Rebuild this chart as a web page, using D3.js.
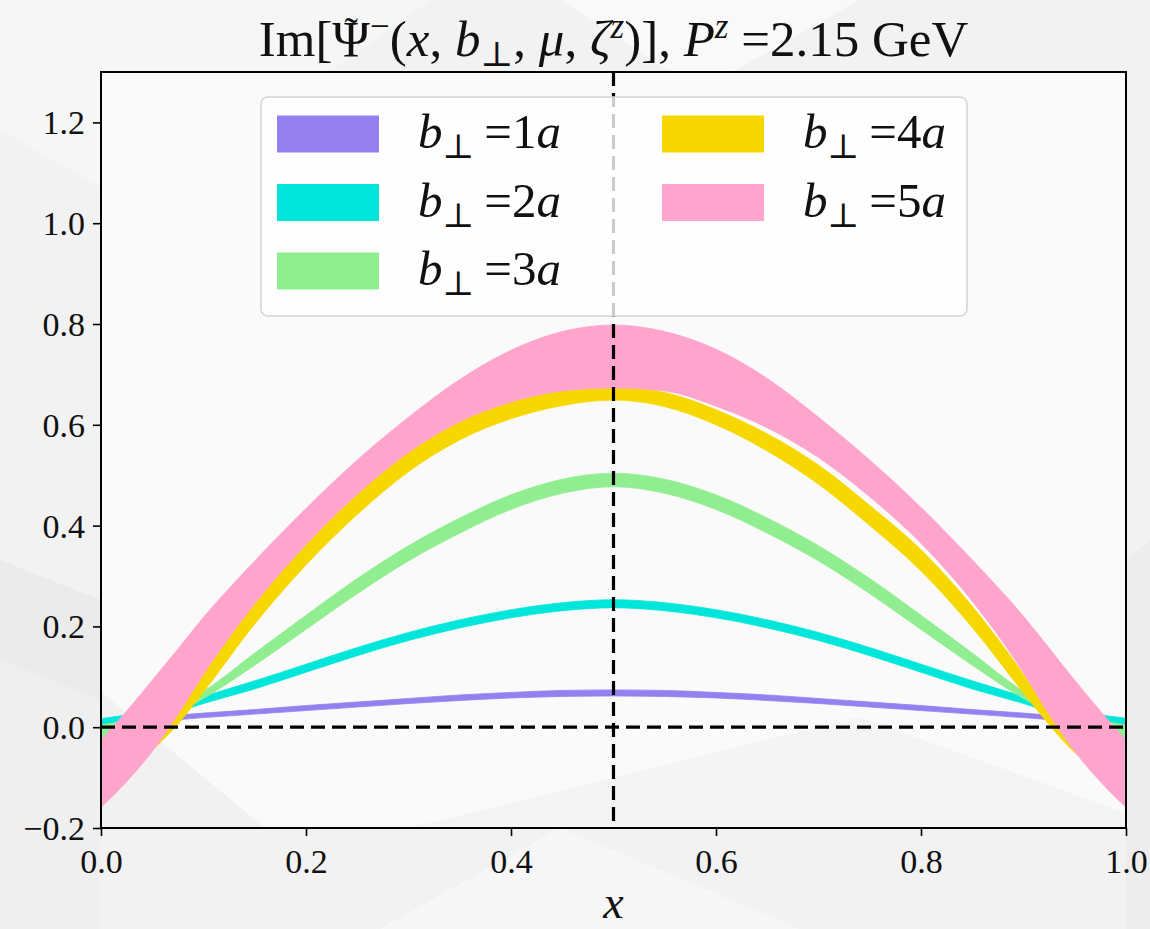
<!DOCTYPE html>
<html>
<head>
<meta charset="utf-8">
<script src="https://cdn.jsdelivr.net/npm/d3@7"></script>
<style>
  body { margin: 0; background: #f2f2f2; }
  svg { display: block; }
  text { font-family: "Liberation Serif", "DejaVu Serif", serif; fill: #111; }
</style>
</head>
<body>
<svg id="chart" width="1150" height="929"></svg>
<script>
// x grid of the bands
const xs = [0, 0.025, 0.05, 0.075, 0.1, 0.15, 0.2, 0.25, 0.3, 0.35, 0.4, 0.45, 0.5,
            0.55, 0.6, 0.65, 0.7, 0.75, 0.8, 0.85, 0.9, 0.925, 0.95, 0.975, 1];

// b_perp = 1a
const b1Lower = [0.005, 0.008, 0.012, 0.015, 0.019, 0.026, 0.033, 0.040, 0.047, 0.053, 0.058, 0.061, 0.062,
                 0.061, 0.058, 0.053, 0.047, 0.040, 0.033, 0.026, 0.019, 0.015, 0.012, 0.008, 0.005];
const b1Upper = [0.013, 0.016, 0.020, 0.024, 0.028, 0.035, 0.043, 0.050, 0.057, 0.064, 0.069, 0.073, 0.074,
                 0.073, 0.069, 0.064, 0.057, 0.050, 0.043, 0.035, 0.028, 0.024, 0.020, 0.016, 0.013];
// b_perp = 2a
const b2Lower = [0.005, 0.012, 0.020, 0.031, 0.047, 0.076, 0.109, 0.142, 0.172, 0.197, 0.217, 0.231, 0.237,
                 0.231, 0.217, 0.197, 0.172, 0.142, 0.109, 0.076, 0.047, 0.031, 0.020, 0.012, 0.007];
const b2Upper = [0.017, 0.024, 0.032, 0.045, 0.061, 0.092, 0.125, 0.158, 0.188, 0.213, 0.233, 0.247, 0.253,
                 0.247, 0.233, 0.213, 0.188, 0.158, 0.125, 0.092, 0.061, 0.045, 0.032, 0.024, 0.018];
// b_perp = 3a
const b3Lower = [-0.025, -0.008, 0.010, 0.030, 0.057, 0.123, 0.194, 0.265, 0.330, 0.385, 0.432, 0.464, 0.477,
                 0.464, 0.432, 0.385, 0.330, 0.265, 0.194, 0.123, 0.057, 0.030, 0.010, -0.008, -0.026];
const b3Upper = [0.004, 0.014, 0.026, 0.042, 0.071, 0.147, 0.222, 0.295, 0.360, 0.415, 0.461, 0.492, 0.504,
                 0.492, 0.461, 0.415, 0.360, 0.295, 0.222, 0.147, 0.071, 0.042, 0.026, 0.014, 0.004];
// b_perp = 4a
const b4Lower = [-0.110, -0.085, -0.045, 0.006, 0.070, 0.205, 0.322, 0.422, 0.507, 0.570, 0.612, 0.638, 0.649,
                 0.636, 0.600, 0.548, 0.482, 0.400, 0.310, 0.198, 0.068, 0.005, -0.050, -0.085, -0.110];
const b4Upper = [-0.085, -0.060, -0.025, 0.030, 0.107, 0.247, 0.363, 0.463, 0.546, 0.607, 0.646, 0.668, 0.675,
                 0.664, 0.630, 0.582, 0.520, 0.440, 0.352, 0.240, 0.105, 0.030, -0.025, -0.060, -0.085];
// b_perp = 5a
const b5Lower = [-0.159, -0.108, -0.048, 0.025, 0.105, 0.245, 0.362, 0.462, 0.545, 0.606, 0.645, 0.667, 0.673,
                 0.667, 0.637, 0.594, 0.535, 0.457, 0.365, 0.250, 0.108, 0.025, -0.048, -0.108, -0.159];
const b5Upper = [-0.026, 0.032, 0.093, 0.155, 0.218, 0.330, 0.434, 0.530, 0.615, 0.690, 0.748, 0.785, 0.798,
                 0.785, 0.750, 0.692, 0.615, 0.530, 0.436, 0.332, 0.220, 0.157, 0.093, 0.032, -0.026];

const bLabels = ["1", "2", "3", "4", "5"];
const bColors = ["#9580f0", "#00e6da", "#90ee90", "#f6d800", "#ffa4cc"];

const xTicks = [0.0, 0.2, 0.4, 0.6, 0.8, 1.0];
const yTicks = [-0.2, 0.0, 0.2, 0.4, 0.6, 0.8, 1.0, 1.2];

const bands = [
  { label: bLabels[0], color: bColors[0], lo: b1Lower, hi: b1Upper },
  { label: bLabels[1], color: bColors[1], lo: b2Lower, hi: b2Upper },
  { label: bLabels[2], color: bColors[2], lo: b3Lower, hi: b3Upper },
  { label: bLabels[3], color: bColors[3], lo: b4Lower, hi: b4Upper },
  { label: bLabels[4], color: bColors[4], lo: b5Lower, hi: b5Upper },
];

const margin = { top: 72, right: 24, bottom: 101, left: 101 };
const W = 1150, H = 929;
const width = W - margin.left - margin.right;
const height = H - margin.top - margin.bottom;

const svg = d3.select("#chart");

// faint faceted background
const bg = svg.append("g");
bg.append("rect").attr("width", W).attr("height", H).attr("fill", "#f2f2f2");
const facets = [
  { pts: [[0,0],[430,0],[140,210],[0,130]], c: "#f6f6f6" },
  { pts: [[560,0],[860,0],[700,90]], c: "#f9f9f9" },
  { pts: [[0,560],[101,600],[101,700],[0,660]], c: "#ebebeb" },
  { pts: [[0,660],[101,700],[101,929],[0,929]], c: "#efefef" },
  { pts: [[380,929],[560,828],[800,929]], c: "#f7f7f7" },
  { pts: [[1126,560],[1150,540],[1150,929],[1126,929]], c: "#ededed" },
];
facets.forEach(f => bg.append("polygon").attr("points", f.pts.map(p => p.join(",")).join(" ")).attr("fill", f.c));

const g = svg.append("g").attr("transform", `translate(${margin.left},${margin.top})`);

const x = d3.scaleLinear().domain([0, 1]).range([0, width]);
const y = d3.scaleLinear().domain([-0.2, 1.3]).range([height, 0]);

g.append("rect").attr("width", width).attr("height", height).attr("fill", "#fafafa");
g.append("polygon")
  .attr("points", [[0, y(0.07)], [x(0.16), height], [0, height]].map(p => p.join(",")).join(" "))
  .attr("fill", "#f1f1f1");
g.append("polygon")
  .attr("points", [[x(0.74), y(0.02)], [width, y(-0.17)], [width, height], [x(0.3), height]].map(p => p.join(",")).join(" "))
  .attr("fill", "#f4f4f4");

g.append("clipPath").attr("id", "clip")
  .append("rect").attr("width", width).attr("height", height);

const plot = g.append("g").attr("clip-path", "url(#clip)");

const area = (b) => d3.area()
  .x((d, i) => x(xs[i]))
  .y0((d, i) => y(b.lo[i]))
  .y1((d, i) => y(b.hi[i]))
  .curve(d3.curveMonotoneX)(xs);

plot.selectAll(".band")
  .data(bands)
  .enter()
  .append("path")
  .attr("class", "band")
  .attr("d", d => area(d))
  .attr("fill", d => d.color)
  .attr("stroke", d => d.color)
  .attr("stroke-width", 0.8);

// reference lines
plot.append("line")
  .attr("x1", 0).attr("x2", width)
  .attr("y1", y(0)).attr("y2", y(0))
  .attr("stroke", "#000").attr("stroke-width", 3.2)
  .attr("stroke-dasharray", "14,7");
plot.append("line")
  .attr("x1", x(0.5)).attr("x2", x(0.5))
  .attr("y1", 0).attr("y2", height)
  .attr("stroke", "#000").attr("stroke-width", 3.2)
  .attr("stroke-dasharray", "14,7");

// axes
const fmt = d3.format(".1f");
const xAxis = g.append("g")
  .attr("transform", `translate(0,${height})`)
  .call(d3.axisBottom(x).tickValues(xTicks).tickFormat(fmt).tickSize(8).tickPadding(8));
const yAxis = g.append("g")
  .call(d3.axisLeft(y).tickValues(yTicks).tickFormat(fmt).tickSize(8).tickPadding(8));

[xAxis, yAxis].forEach(a => {
  a.select(".domain").remove();
  a.selectAll(".tick line").attr("stroke", "#000").attr("stroke-width", 1.6);
  a.selectAll(".tick text")
    .attr("fill", "#111")
    .style("font-family", '"Liberation Serif", serif')
    .style("font-size", "34px");
});
xAxis.selectAll(".tick text").attr("dy", "0.85em");
yAxis.selectAll(".tick text").attr("dy", "0.34em");

g.append("rect")
  .attr("width", width).attr("height", height)
  .attr("fill", "none").attr("stroke", "#000").attr("stroke-width", 2);

// legend
const legend = g.append("g").attr("transform", `translate(${261 - margin.left},${97 - margin.top})`);
legend.append("rect")
  .attr("width", 706).attr("height", 219).attr("rx", 7)
  .attr("fill", "#ffffff").attr("fill-opacity", 0.8)
  .attr("stroke", "#d4d4d4").attr("stroke-width", 1.5);

const rowY = [37, 105.5, 174];
const colX = [16, 401];
bands.forEach((b, i) => {
  const col = i < 3 ? 0 : 1;
  const row = i < 3 ? i : i - 3;
  const item = legend.append("g").attr("transform", `translate(${colX[col]},${rowY[row]})`);
  item.append("rect")
    .attr("x", 0).attr("y", -18.5).attr("width", 102).attr("height", 37)
    .attr("fill", b.color);
  const t = item.append("text").attr("x", 141).attr("y", 14).style("font-size", "49px");
  t.append("tspan").style("font-style", "italic").text("b");
  t.append("tspan").attr("dy", 10).style("font-size", "34px").text("\u22A5");
  t.append("tspan").attr("dy", -10).text("\u2009=" + b.label);
  t.append("tspan").style("font-style", "italic").text("a");
});

// title
const title = svg.append("text")
  .attr("x", margin.left + width / 2).attr("y", 56)
  .attr("text-anchor", "middle")
  .style("font-size", "51px");
title.append("tspan").text("Im[\u03A8");
title.append("tspan").attr("dy", -18).style("font-size", "35px").text("\u2212");
title.append("tspan").attr("dy", 18).text("(");
title.append("tspan").style("font-style", "italic").text("x");
title.append("tspan").text(", ");
title.append("tspan").style("font-style", "italic").text("b");
title.append("tspan").attr("dy", 10).style("font-size", "35px").text("\u22A5");
title.append("tspan").attr("dy", -10).text(", ");
title.append("tspan").style("font-style", "italic").text("\u03BC");
title.append("tspan").text(", ");
title.append("tspan").style("font-style", "italic").text("\u03B6");
title.append("tspan").attr("dy", -18).style("font-size", "35px").style("font-style", "italic").text("z");
title.append("tspan").attr("dy", 18).text(")]");
title.append("tspan").text(", ");
title.append("tspan").style("font-style", "italic").text("P");
title.append("tspan").attr("dy", -18).style("font-size", "35px").style("font-style", "italic").text("z");
title.append("tspan").attr("dy", 18).text(" =2.15 GeV");

// tilde accent over Psi (char index 3)
const psi = title.node().getExtentOfChar(3);
svg.append("text")
  .attr("x", psi.x + psi.width / 2).attr("y", psi.y + 34)
  .attr("text-anchor", "middle")
  .style("font-size", "40px")
  .text("\u02DC");

// x axis label
svg.append("text")
  .attr("x", margin.left + width / 2).attr("y", 918)
  .attr("text-anchor", "middle")
  .style("font-size", "46px").style("font-style", "italic")
  .text("x");
</script>
</body>
</html>
